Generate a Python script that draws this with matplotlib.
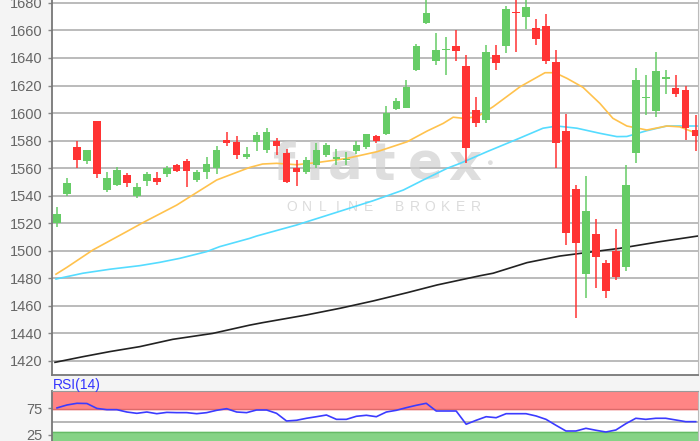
import numpy as np
import matplotlib
matplotlib.use("Agg")
import matplotlib.pyplot as plt

plt.rcParams['font.family'] = ['Liberation Sans', 'DejaVu Sans']

# daily candles
opens = [1520, 1541, 1575, 1565, 1594, 1544, 1548, 1555, 1540, 1551,
         1553, 1556, 1562, 1565.5, 1551.5, 1557.5, 1560, 1580.5, 1579, 1568,
         1579, 1573, 1580, 1571, 1560, 1557.5, 1562, 1569.5, 1566.7, 1566,
         1572.5, 1575, 1583, 1585, 1603, 1604, 1631, 1665.5, 1638, 1645.5,
         1649, 1634, 1602, 1595, 1642.5, 1648.5, 1673.5, 1669.5, 1662, 1663.5,
         1637.3, 1587, 1544.5, 1483, 1512.5, 1491, 1500, 1488, 1571, 1611,
         1601.5, 1625, 1618, 1617, 1588]
highs = [1532, 1553, 1580, 1573.5, 1594, 1557, 1561, 1556.5, 1549.5, 1557.5,
         1557.5, 1561.5, 1563, 1566.5, 1559, 1568, 1576, 1586.5, 1583, 1575,
         1586.5, 1589.5, 1582, 1574, 1566, 1568, 1578, 1578, 1574, 1571.5,
         1580, 1585, 1584, 1605, 1611, 1624, 1650, 1690, 1658.5, 1655,
         1660, 1642, 1612, 1649.5, 1649.5, 1678, 1685, 1684, 1668, 1672,
         1646, 1599, 1548, 1554, 1523, 1493, 1516, 1562, 1633, 1627.5,
         1644.5, 1631, 1628, 1620, 1598.5]
lows = [1517, 1540, 1560, 1563, 1553, 1543, 1547, 1546, 1538.5, 1547,
        1548, 1553.5, 1557, 1546, 1550, 1552, 1556, 1576, 1567, 1567,
        1572.5, 1571, 1569.5, 1549, 1547, 1555.5, 1560, 1568, 1562, 1562,
        1570, 1574, 1578, 1584, 1602, 1603.5, 1630.5, 1665, 1635, 1628,
        1638, 1563.5, 1590, 1593, 1631.5, 1643.5, 1644, 1661, 1649.5, 1635.5,
        1560, 1504, 1451, 1465.5, 1473, 1465.5, 1479, 1485.5, 1564, 1598.5,
        1597.5, 1614, 1612, 1580.5, 1572.5]
closes = [1527, 1549, 1566, 1573, 1556, 1553, 1559, 1549.5, 1546, 1556,
          1550, 1560, 1558, 1558, 1557, 1563, 1573, 1578, 1569.5, 1570,
          1584, 1586, 1576, 1550, 1557.5, 1566, 1573, 1577, 1568.3, 1567,
          1577, 1584.5, 1580, 1600, 1609, 1619, 1649, 1673, 1645.5, 1646.5,
          1645, 1574.5, 1593, 1644.5, 1636.5, 1675.5, 1672.5, 1677, 1653.5, 1638,
          1578, 1513, 1506, 1529, 1495.5, 1471, 1481, 1548, 1624, 1612,
          1630.5, 1626, 1614, 1589.5, 1583]

# moving averages, sampled at candle positions
ma_short_x = [-0.1, 1.0, 3.6, 7.0, 8.6, 12.0, 13.6, 16.0, 17.3, 19.3, 20.6, 22.0,
              24.0, 26.0, 29.0, 32.1, 35.1, 37.1, 38.7, 39.7, 40.7, 42.1, 43.7,
              46.4, 48.9, 49.9, 51.1, 52.7, 54.4, 55.7, 57.1, 59.1, 61.1, 62.4, 64.2]
ma_short = [1483, 1488, 1500.6, 1514, 1520.4, 1533.2, 1540.5, 1551.4, 1555, 1560.5,
            1563, 1563.5, 1562.5, 1564, 1567, 1572, 1579.2, 1587, 1592.5, 1597,
            1596.2, 1597.3, 1604.6, 1619.1, 1629.3, 1629.3, 1625.2, 1618.7, 1607,
            1596.2, 1590.6, 1587.7, 1590.6, 1590, 1585]
ma_mid_x = [-0.1, 2.6, 5.3, 8.3, 10.3, 12.3, 15.0, 16.3, 19.3, 20.0, 24.0, 27.4,
            31.7, 34.7, 36.7, 39.1, 40.4, 43.1, 46.1, 48.7, 50.1, 52.1, 54.4,
            56.1, 57.1, 59.1, 61.1, 64.2]
ma_mid = [1479.5, 1483.7, 1486.6, 1489.2, 1491.6, 1494.5, 1499.4, 1503, 1509,
          1510.7, 1518.7, 1526.5, 1536.4, 1544.1, 1551.4, 1559.9, 1563.5, 1572,
          1581, 1589, 1590.6, 1589, 1585.3, 1582.9, 1583, 1587.2, 1590.6, 1590.6]
ma_long_x = [-0.2, 2.6, 5.3, 8.3, 11.6, 15.6, 19.3, 20.6, 25.0, 28.4, 31.7, 35.1,
             38.1, 42.4, 43.7, 47.1, 50.4, 53.7, 56.4, 60.4, 64.2]
ma_long = [1419, 1423.1, 1426.8, 1430.4, 1435.7, 1440, 1446, 1447.8, 1453.4, 1458.3,
           1463.6, 1469.6, 1475.2, 1481.9, 1483.7, 1491.4, 1496.2, 1499.3, 1501.8,
           1506.6, 1510.7]

rsi = [76, 81.5, 84.7, 84.3, 75, 72.6, 72.6, 68.2, 65.7, 68.2,
       65, 67.5, 67, 67, 65, 67, 71.4, 74.5, 68.2, 67,
       72, 72, 65.7, 51.2, 52.5, 56.3, 59.3, 62.5, 54.3, 54.3,
       60.1, 62, 59.3, 68.2, 71.4, 76.4, 80.9, 84.7, 70.1, 70.1,
       70.1, 45, 52.5, 59.3, 57.4, 65, 65, 65, 60.7, 54.3,
       43, 32.2, 32.2, 37.3, 33.6, 30.3, 34.1, 46.1, 56.3, 54.3,
       56.3, 56.3, 53.1, 49.9, 49.9]

price_ticks = list(range(1420, 1681, 20))
rsi_ticks = [25, 75]

green = '#66cc66'
red = '#ff3333'
tick_color = '#666666'

fig = plt.figure(figsize=(7, 4.41), dpi=100, facecolor='#f4f4f4')
W, H = 700, 441

ax = fig.add_axes([52 / W, 66 / H, 646 / W, 375 / H])
ax.set_facecolor('white')

idx = np.arange(len(opens))
o = np.array(opens)
c = np.array(closes)
up = c >= o
cols = np.where(up, green, red)

ax.vlines(idx, lows, highs, colors=cols, lw=1.1, zorder=4)
body_lo = np.minimum(o, c)
body_h = np.maximum(np.abs(c - o), 0.9)
ax.bar(idx, body_h, bottom=body_lo, width=0.75, color=cols, zorder=5)

ax.plot(ma_long_x, ma_long, color='#222222', lw=1.2, zorder=3)
ax.plot(ma_mid_x, ma_mid, color='#55dcff', lw=1.2, zorder=3)
ax.plot(ma_short_x, ma_short, color='#ffc24d', lw=1.2, zorder=3)

ax.set_xlim(-0.5, 64.23)
ax.set_ylim(1409.8, 1682.1)
ax.set_yticks(price_ticks)
ax.set_xticks([])
ax.grid(axis='y', color='#a8a8a8', lw=1.1, zorder=0)
ax.set_axisbelow(True)
ax.tick_params(axis='y', length=3, width=1, color='#888888', pad=4,
               labelsize=10.5, labelcolor=tick_color)
ax.spines['top'].set_visible(False)
for s in ['left', 'bottom']:
    ax.spines[s].set_color('#777777')
    ax.spines[s].set_linewidth(1.3)
ax.spines['right'].set_color('#bbbbbb')

# watermark, drawn inside the price axes so candles sit on top
wm = '#d0d0d0'
for ch, px in zip('flatex', [284, 314, 345, 383, 425, 465]):
    ax.text(px / W, 1 - 180 / H, ch, fontsize=37, fontweight='bold', color=wm,
            ha='center', va='baseline', alpha=0.7, zorder=2,
            family='DejaVu Sans', transform=fig.transFigure)
ax.text(489 / W, 1 - 163 / H, '\u25cf', fontsize=8, color=wm, ha='center',
        va='center', alpha=0.7, zorder=2, transform=fig.transFigure)
for i, ch in enumerate('ONLINE BROKER'):
    ax.text((292 + i * 15.3) / W, 1 - 207 / H, ch, fontsize=10, color=wm,
            ha='center', va='center', alpha=0.75, zorder=2,
            transform=fig.transFigure)

# RSI panel
rax = fig.add_axes([52 / W, -7 / H, 646 / W, 57 / H])
rax.set_facecolor('white')
rax.axhspan(74, 108, color='#ff8585', zorder=1)
rax.axhline(74, color='#dd6a6a', lw=1, zorder=2)
rax.axhspan(0, 31, color='#86d386', zorder=1)
rax.axhline(31, color='#66bb66', lw=1, zorder=2)
rax.axhline(50, color='#aaaaaa', lw=1.2, zorder=2)
rax.plot(idx, rsi, color='#3b3bff', lw=1.2, zorder=3)
rax.set_xlim(-0.5, 64.23)
rax.set_ylim(0, 108)
rax.set_yticks(rsi_ticks)
rax.set_xticks([])
rax.tick_params(axis='y', length=3, width=1, color='#888888', pad=4,
                labelsize=10.5, labelcolor=tick_color)
rax.spines['left'].set_color('#777777')
rax.spines['left'].set_linewidth(1.3)
rax.spines['top'].set_color('#999999')
rax.spines['right'].set_color('#bbbbbb')
fig.text(53 / W, 1 - 385 / H, 'RSI(14)', fontsize=10, color='#3333ff',
         ha='left', va='center')

fig.savefig('out.png', dpi=100, facecolor=fig.get_facecolor())
